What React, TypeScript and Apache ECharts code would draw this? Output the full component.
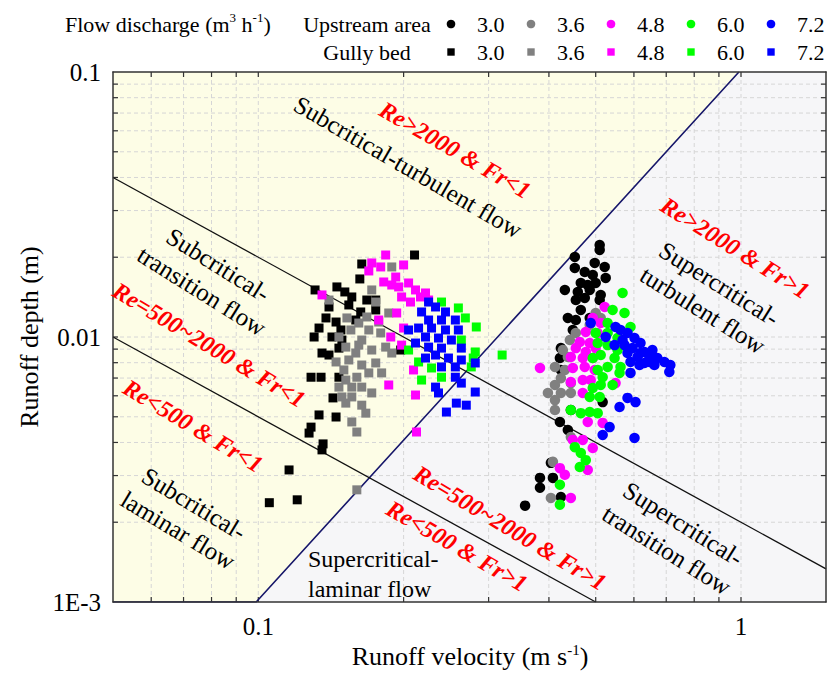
import React, { useEffect, useRef } from 'react';
import * as echarts from 'echarts';

// ---------- data ----------
const dischargeLabels = ['3.0', '3.6', '4.8', '6.0', '7.2'];
const seriesColors = ['#000000', '#808080', '#ff00ff', '#00ff00', '#0000ff'];

// Gully bed (squares): [velocity m/s, depth m]
const gully30 = [
  [0.2107, 0.02039], [0.1638, 0.01886], [0.1623, 0.01656], [0.1455, 0.01545], [0.1511, 0.01479],
  [0.1311, 0.01505], [0.1562, 0.01416], [0.1678, 0.01379], [0.1401, 0.01298], [0.154, 0.01321],
  [0.163, 0.01243], [0.1751, 0.01265], [0.1381, 0.0118], [0.1449, 0.01139], [0.1592, 0.01159],
  [0.1336, 0.01081], [0.1483, 0.01063], [0.1421, 0.01], [0.1305, 0.01], [0.149, 0.00974],
  [0.1355, 0.0087], [0.1401, 0.00855], [0.1469, 0.00908], [0.1286, 0.00705], [0.1349, 0.00705],
  [0.1469, 0.00705], [0.1428, 0.00589], [0.1336, 0.00508], [0.1449, 0.00499], [0.1286, 0.00457],
  [0.1274, 0.00434], [0.1362, 0.00395], [0.1355, 0.00375], [0.1158, 0.00315], [0.1204, 0.00243],
  [0.1054, 0.00237], [0.1972, 0.00893], [0.1751, 0.01379],
];
const gully36 = [
  [0.189, 0.01838], [0.1718, 0.01505], [0.1751, 0.01355], [0.1401, 0.01379], [0.1526, 0.0118],
  [0.1615, 0.01129], [0.1694, 0.01063], [0.1555, 0.01063], [0.1793, 0.01036], [0.1863, 0.01232],
  [0.1836, 0.00916], [0.189, 0.0087], [0.1638, 0.00974], [0.1518, 0.00916], [0.1592, 0.0087],
  [0.1718, 0.00893], [0.1449, 0.00805], [0.154, 0.00819], [0.1638, 0.00784], [0.1751, 0.00798],
  [0.1694, 0.00732], [0.16, 0.00705], [0.1518, 0.00688], [0.1469, 0.00647], [0.1562, 0.00647],
  [0.1638, 0.00647], [0.1718, 0.00615], [0.149, 0.00594], [0.1562, 0.00594], [0.1638, 0.00553],
  [0.1518, 0.00563], [0.167, 0.00516], [0.1562, 0.00478], [0.16, 0.00438], [0.16, 0.00265],
  [0.1678, 0.0119], [0.1469, 0.01], [0.1615, 0.00932], [0.1776, 0.01139], [0.1504, 0.00751],
  [0.1801, 0.00732],
];
const gully48 = [
  [0.1836, 0.02039], [0.1718, 0.01903], [0.1793, 0.01838], [0.2, 0.0187], [0.1694, 0.01775],
  [0.1819, 0.01613], [0.1926, 0.01684], [0.1953, 0.01545], [0.2048, 0.01599], [0.2117, 0.01505],
  [0.222, 0.01466], [0.1981, 0.01416], [0.2067, 0.01355], [0.1355, 0.01441], [0.1935, 0.01232],
  [0.1776, 0.01159], [0.2, 0.01081], [0.1881, 0.01], [0.1981, 0.00932], [0.2097, 0.00751],
  [0.1863, 0.00659], [0.2117, 0.00604], [0.2127, 0.00438], [0.2253, 0.01379], [0.189, 0.01571],
  [0.2168, 0.01416],
];
const gully60 = [
  [0.2396, 0.01355], [0.2597, 0.01287], [0.2685, 0.0118], [0.2829, 0.01091], [0.2634, 0.00974],
  [0.2815, 0.00878], [0.2788, 0.00833], [0.2048, 0.00893], [0.2148, 0.00805], [0.2285, 0.00764],
  [0.2396, 0.00705], [0.2179, 0.00688], [0.32, 0.00855], [0.2762, 0.00771],
];
const gully72 = [
  [0.2253, 0.01355], [0.2329, 0.01298], [0.2179, 0.01243], [0.2442, 0.01243], [0.2253, 0.01159],
  [0.2396, 0.01159], [0.256, 0.01159], [0.2148, 0.01081], [0.2285, 0.01081], [0.2442, 0.01063],
  [0.2597, 0.01063], [0.222, 0.01], [0.2362, 0.00991], [0.2512, 0.00974], [0.2117, 0.00949],
  [0.2253, 0.00916], [0.2396, 0.00908], [0.2634, 0.00908], [0.2329, 0.00855], [0.2477, 0.00833],
  [0.2634, 0.00819], [0.222, 0.00833], [0.2396, 0.00771], [0.256, 0.00771], [0.2815, 0.00798],
  [0.256, 0.00705], [0.2634, 0.0067], [0.2329, 0.00647], [0.2362, 0.00615], [0.2815, 0.0062],
  [0.2572, 0.00563], [0.2697, 0.00553], [0.2453, 0.00521], [0.2048, 0.01063],
];

// Upstream area (circles)
const upstream30 = [
  [0.5096, 0.02224], [0.5096, 0.0213], [0.4526, 0.02005], [0.4977, 0.01903], [0.5219, 0.01838],
  [0.4526, 0.01822], [0.4746, 0.01759], [0.493, 0.01714], [0.5244, 0.0167], [0.4657, 0.01599],
  [0.4316, 0.01505], [0.4591, 0.01479], [0.486, 0.01505], [0.5121, 0.01441], [0.4548, 0.01379],
  [0.4746, 0.01404], [0.5096, 0.01379], [0.4378, 0.0118], [0.4548, 0.01159], [0.486, 0.0118],
  [0.4483, 0.01063], [0.4235, 0.00908], [0.4215, 0.00833], [0.4235, 0.00751], [0.5169, 0.00568],
  [0.4441, 0.0053], [0.4215, 0.00478], [0.4378, 0.00446], [0.4038, 0.00335], [0.3833, 0.00294],
  [0.3833, 0.0027], [0.4077, 0.00294], [0.4235, 0.00249], [0.357, 0.00231], [0.4814, 0.01571],
  [0.4657, 0.01265], [0.5, 0.01599],
];
const upstream36 = [
  [0.5, 0.01232], [0.486, 0.0111], [0.4548, 0.01036], [0.442, 0.00974], [0.4275, 0.00893],
  [0.4378, 0.0084], [0.4117, 0.00771], [0.4316, 0.00751], [0.4235, 0.00699], [0.4117, 0.00659],
  [0.4441, 0.0067], [0.3981, 0.00615], [0.4235, 0.00615], [0.4117, 0.00578], [0.4441, 0.00615],
  [0.4117, 0.0053], [0.4441, 0.00419], [0.4077, 0.00338], [0.4038, 0.00247], [0.5121, 0.0118],
];
const upstream48 = [
  [0.5219, 0.01298], [0.493, 0.0118], [0.5121, 0.01129], [0.4769, 0.01045], [0.5048, 0.01036],
  [0.4635, 0.00957], [0.486, 0.00949], [0.4548, 0.00908], [0.4769, 0.00878], [0.5, 0.00908],
  [0.4441, 0.0084], [0.4701, 0.00833], [0.493, 0.00833], [0.4483, 0.00764], [0.4746, 0.00771],
  [0.4977, 0.00751], [0.4441, 0.00676], [0.4701, 0.00688], [0.4883, 0.00688], [0.5497, 0.0067],
  [0.4701, 0.00615], [0.3833, 0.00764], [0.4814, 0.00478], [0.5169, 0.00474], [0.4483, 0.00409],
  [0.4701, 0.00409], [0.493, 0.00381], [0.4215, 0.0032], [0.4316, 0.00302], [0.4814, 0.00315],
  [0.4441, 0.00247],
];
const upstream60 = [
  [0.5683, 0.01466], [0.542, 0.01265], [0.5737, 0.01232], [0.5903, 0.01091], [0.5293, 0.01129],
  [0.5, 0.01036], [0.5293, 0.01036], [0.555, 0.00991], [0.5048, 0.00949], [0.5293, 0.00932],
  [0.555, 0.00893], [0.5121, 0.00855], [0.5471, 0.00833], [0.493, 0.00833], [0.5629, 0.00771],
  [0.5293, 0.00771], [0.5048, 0.00751], [0.5603, 0.00732], [0.5169, 0.00705], [0.5121, 0.00659],
  [0.542, 0.00659], [0.493, 0.00642], [0.5096, 0.00594], [0.486, 0.00594], [0.4441, 0.0053],
  [0.4657, 0.00516], [0.486, 0.00521], [0.5048, 0.00516], [0.4526, 0.00384], [0.4769, 0.00343],
  [0.4635, 0.00323], [0.4215, 0.00277], [0.4215, 0.00233], [0.4657, 0.00365],
];
const upstream72 = [
  [0.4883, 0.01129], [0.5244, 0.01], [0.5497, 0.01091], [0.5629, 0.01063], [0.582, 0.01036],
  [0.6017, 0.00991], [0.6191, 0.00949], [0.5471, 0.00932], [0.5737, 0.00932], [0.596, 0.00908],
  [0.631, 0.00878], [0.6553, 0.00893], [0.582, 0.0087], [0.6104, 0.0084], [0.6461, 0.0084],
  [0.6711, 0.00833], [0.6938, 0.00805], [0.7138, 0.00784], [0.7104, 0.00738], [0.631, 0.00798],
  [0.6616, 0.00784], [0.5903, 0.00805], [0.6162, 0.00784], [0.5903, 0.00732], [0.582, 0.00589],
  [0.6046, 0.00568], [0.5603, 0.00544], [0.5343, 0.00457], [0.5169, 0.00427], [0.6017, 0.00416],
  [0.5683, 0.00974], [0.6191, 0.0087], [0.6461, 0.00805],
];

const upstreamSets = [upstream30, upstream36, upstream48, upstream60, upstream72];
const gullySets = [gully30, gully36, gully48, gully60, gully72];

// Flow-regime boundary lines: Fr = 1, Re = 2000, Re = 500
const froudeLine = [[0.05, 0.001], [0.099, 0.001], [0.99, 0.1]];
const re2000Line = [[0.05, 0.04], [1.5, 0.001333]];
const re500Line = [[0.05, 0.01], [0.5, 0.001]];
// regime regions (subcritical, supercritical)
const subcriticalRegion = [[0.05, 0.001], [0.099, 0.001], [0.99, 0.1], [0.05, 0.1]];
const supercriticalRegion = [[0.099, 0.001], [1.5, 0.001], [1.5, 0.1], [0.99, 0.1]];

// axes
const xMin = 0.05, xMax = 1.5, yMin = 0.001, yMax = 0.1;
const xTickValues = [0.1, 1];
const xTickLabels = ['0.1', '1'];
const yTickValues = [0.001, 0.01, 0.1];
const yTickLabels = ['1E-3', '0.01', '0.1'];
const xGridValues = [0.06, 0.07, 0.08, 0.09, 0.1, 0.2, 0.3, 0.4, 0.5, 0.6, 0.7, 0.8, 0.9, 1];
const yGridValues = [0.002, 0.003, 0.004, 0.005, 0.006, 0.007, 0.008, 0.009, 0.01,
  0.02, 0.03, 0.04, 0.05, 0.06, 0.07, 0.08, 0.09];

const FONT = 'Liberation Serif';

function makeFormatter(vals: number[], labels: string[]) {
  return (v: number) => {
    const i = vals.findIndex((t) => Math.abs(Math.log10(v) - Math.log10(t)) < 1e-6);
    return i >= 0 ? labels[i] : '';
  };
}

export default function App() {
  const ref = useRef<HTMLDivElement>(null);

  useEffect(() => {
    const chart = echarts.init(ref.current!, null, { renderer: 'svg' });
    const deg = Math.PI / 180;

    const annotations: any[] = [
      { text: 'Re>2000 & Fr<1', x: 455, y: 150, r: -30, red: true },
      { text: 'Subcritical-turbulent flow', x: 408, y: 167, r: -30 },
      { text: 'Re>2000 & Fr>1', x: 735, y: 248, r: -32, red: true },
      { text: 'Supercritical-\nturbulent flow', x: 711, y: 297, r: -32 },
      { text: 'Subcritical-\ntransition flow', x: 210, y: 278, r: -32 },
      { text: 'Re=500~2000 & Fr<1', x: 209, y: 345, r: -31, red: true },
      { text: 'Re<500 & Fr<1', x: 193, y: 426, r: -31, red: true },
      { text: 'Subcritical-\nlaminar flow', x: 186, y: 517, r: -31 },
      { text: 'Re=500~2000 & Fr>1', x: 510, y: 528, r: -31, red: true },
      { text: 'Re<500 & Fr>1', x: 457, y: 546, r: -30, red: true },
      { text: 'Supercritical-\ntransition flow', x: 675, y: 537, r: -32 },
    ];

    const graphics: any[] = [];
    annotations.forEach((a) => {
      graphics.push({
        type: 'text', x: a.x, y: a.y, rotation: a.r * deg, z: 50, silent: true,
        style: {
          text: a.text, fill: a.red ? '#ff0000' : '#000000',
          fontSize: a.red ? 24 : 25, fontFamily: FONT,
          fontStyle: a.red ? 'italic' : 'normal', fontWeight: a.red ? 'bold' : 'normal',
          align: 'center', verticalAlign: 'middle', textAlign: 'center', textVerticalAlign: 'middle',
          lineHeight: 31,
        },
      });
    });
    graphics.push({
      type: 'text', x: 308, y: 574, z: 50, silent: true,
      style: {
        text: 'Supercritical-\nlaminar flow', fill: '#000', fontSize: 24, fontFamily: FONT,
        align: 'left', verticalAlign: 'middle', textAlign: 'left',
        textVerticalAlign: 'middle', lineHeight: 30,
      },
    });

    // axis titles
    graphics.push({
      type: 'text', x: 470, y: 656, z: 50, silent: true,
      style: {
        text: '{a|Runoff velocity (m s}{s|-1}{a|)}',
        align: 'center', verticalAlign: 'middle', textAlign: 'center', textVerticalAlign: 'middle',
        rich: {
          a: { fontSize: 26, fontFamily: FONT, fill: '#000', color: '#000', lineHeight: 28 },
          s: { fontSize: 15, fontFamily: FONT, fill: '#000', color: '#000', lineHeight: 16, verticalAlign: 'top' },
        },
      },
    });
    graphics.push({
      type: 'text', x: 29, y: 337, rotation: Math.PI / 2, z: 50, silent: true,
      style: {
        text: 'Runoff depth (m)', fill: '#000', fontSize: 26, fontFamily: FONT,
        align: 'center', verticalAlign: 'middle', textAlign: 'center', textVerticalAlign: 'middle',
      },
    });

    // legend
    graphics.push({
      type: 'text', x: 65, y: 24, z: 50, silent: true,
      style: {
        text: '{a|Flow discharge (m}{s|3}{a| h}{s|-1}{a|)}',
        align: 'left', verticalAlign: 'middle', textAlign: 'left', textVerticalAlign: 'middle',
        rich: {
          a: { fontSize: 22, fontFamily: FONT, fill: '#000', color: '#000', lineHeight: 26 },
          s: { fontSize: 13, fontFamily: FONT, fill: '#000', color: '#000', lineHeight: 14, verticalAlign: 'top' },
        },
      },
    });
    const rowNames = ['Upstream area', 'Gully bed'];
    const rowY = [24, 52];
    rowNames.forEach((name, r) => {
      graphics.push({
        type: 'text', x: 367, y: rowY[r], z: 50, silent: true,
        style: {
          text: name, fill: '#000', fontSize: 22, fontFamily: FONT,
          align: 'center', verticalAlign: 'middle', textAlign: 'center', textVerticalAlign: 'middle',
        },
      });
      dischargeLabels.forEach((lab, i) => {
        const mx = 451 + 80 * i;
        if (r === 0) {
          graphics.push({ type: 'circle', z: 50, silent: true, shape: { cx: mx, cy: rowY[r], r: 4.3 }, style: { fill: seriesColors[i] } });
        } else {
          graphics.push({ type: 'rect', z: 50, silent: true, shape: { x: mx - 3.7, y: rowY[r] - 3.7, width: 7.4, height: 7.4 }, style: { fill: seriesColors[i] } });
        }
        graphics.push({
          type: 'text', x: mx + 26, y: rowY[r], z: 50, silent: true,
          style: {
            text: lab, fill: '#000', fontSize: 22, fontFamily: FONT,
            align: 'left', verticalAlign: 'middle', textAlign: 'left', textVerticalAlign: 'middle',
          },
        });
      });
    });

    const regions = [subcriticalRegion, supercriticalRegion];
    const regionColors = ['#fdfde6', '#f6f6f8'];
    const tickColor = '#333333';
    const gridColor = '#d6d6d6';

    const axisCommon = {
      type: 'log', logBase: 10, z: 10,
      axisLine: { show: true, onZero: false, lineStyle: { color: '#333333', width: 1.5 } },
      axisTick: { show: false },
      splitLine: { show: false },
      minorTick: { show: false },
    };

    const series: any[] = [
      {
        type: 'custom', z: 1, silent: true, clip: false,
        data: regions.map((p) => p[0]),
        renderItem: (params: any, api: any) => {
          const poly = regions[params.dataIndex];
          return {
            type: 'polygon',
            shape: { points: poly.map((pt) => api.coord(pt)) },
            style: { fill: regionColors[params.dataIndex], stroke: null },
          };
        },
      },
      {
        type: 'custom', z: 2, silent: true,
        data: xGridValues.map((v) => [v, 0.01]),
        renderItem: (params: any, api: any) => {
          const v = xGridValues[params.dataIndex];
          const p0 = api.coord([v, yMin]);
          const p1 = api.coord([v, yMax]);
          return {
            type: 'group',
            children: [
              { type: 'line', shape: { x1: p0[0], y1: p0[1], x2: p1[0], y2: p1[1] }, style: { stroke: gridColor, lineWidth: 1, lineDash: [4, 3] } },
              { type: 'line', shape: { x1: p0[0], y1: p0[1], x2: p0[0], y2: p0[1] - 5 }, style: { stroke: tickColor, lineWidth: 1.2 } },
              { type: 'line', shape: { x1: p1[0], y1: p1[1], x2: p1[0], y2: p1[1] + 5 }, style: { stroke: tickColor, lineWidth: 1.2 } },
            ],
          };
        },
      },
      {
        type: 'custom', z: 2, silent: true,
        data: yGridValues.map((v) => [0.1, v]),
        renderItem: (params: any, api: any) => {
          const v = yGridValues[params.dataIndex];
          const p0 = api.coord([xMin, v]);
          const p1 = api.coord([xMax, v]);
          return {
            type: 'group',
            children: [
              { type: 'line', shape: { x1: p0[0], y1: p0[1], x2: p1[0], y2: p1[1] }, style: { stroke: gridColor, lineWidth: 1, lineDash: [4, 3] } },
              { type: 'line', shape: { x1: p0[0], y1: p0[1], x2: p0[0] + 5, y2: p0[1] }, style: { stroke: tickColor, lineWidth: 1.2 } },
              { type: 'line', shape: { x1: p1[0], y1: p1[1], x2: p1[0] - 5, y2: p1[1] }, style: { stroke: tickColor, lineWidth: 1.2 } },
            ],
          };
        },
      },
      {
        type: 'line', z: 3, silent: true, data: froudeLine, symbol: 'none',
        lineStyle: { color: '#16166a', width: 1.6 },
      },
      {
        type: 'line', z: 3, silent: true, data: re2000Line, symbol: 'none',
        lineStyle: { color: '#111111', width: 1.3 },
      },
      {
        type: 'line', z: 3, silent: true, data: re500Line, symbol: 'none',
        lineStyle: { color: '#111111', width: 1.3 },
      },
    ];

    gullySets.forEach((d, i) => {
      series.push({
        type: 'scatter', name: `Gully bed ${dischargeLabels[i]}`, z: 5, data: d,
        symbol: 'rect', symbolSize: 9, itemStyle: { color: seriesColors[i], opacity: 1 },
        silent: true,
      });
    });
    upstreamSets.forEach((d, i) => {
      series.push({
        type: 'scatter', name: `Upstream area ${dischargeLabels[i]}`, z: 5, data: d,
        symbol: 'circle', symbolSize: 10.5, itemStyle: { color: seriesColors[i], opacity: 1 },
        silent: true,
      });
    });

    const option: any = {
      animation: false,
      backgroundColor: '#ffffff',
      textStyle: { fontFamily: FONT },
      grid: { left: 113, right: 1, top: 72, bottom: 73 },
      xAxis: [
        {
          ...axisCommon, min: xMin, max: xMax, position: 'bottom',
          axisLabel: {
            show: true, formatter: makeFormatter(xTickValues, xTickLabels), fontSize: 25,
            fontFamily: FONT, color: '#000', margin: 12, showMinLabel: true, showMaxLabel: true,
          },
        },
        { ...axisCommon, min: xMin, max: xMax, position: 'top', axisLabel: { show: false } },
      ],
      yAxis: [
        {
          ...axisCommon, min: yMin, max: yMax, position: 'left',
          axisLabel: {
            show: true, formatter: makeFormatter(yTickValues, yTickLabels), fontSize: 25,
            fontFamily: FONT, color: '#000', margin: 12, showMinLabel: true, showMaxLabel: true,
          },
        },
        { ...axisCommon, min: yMin, max: yMax, position: 'right', axisLabel: { show: false } },
      ],
      graphic: { elements: graphics },
      series,
    };

    chart.setOption(option);
    return () => chart.dispose();
  }, []);

  return (
    <div
      ref={ref}
      style={{ position: 'fixed', left: 0, top: 0, width: 829, height: 675, background: '#fff' }}
    />
  );
}
